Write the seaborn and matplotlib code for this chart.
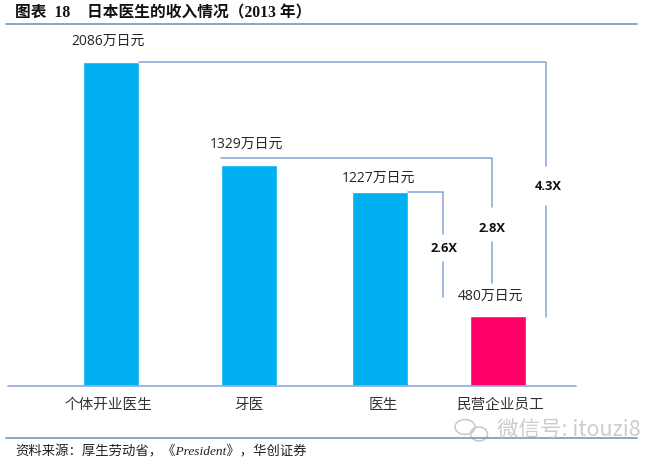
# -*- coding: utf-8 -*-
import matplotlib
matplotlib.use("Agg")
import matplotlib.pyplot as plt
from matplotlib.patches import Ellipse
import seaborn as sns

categories = ["个体开业医生", "牙医", "医生", "民营企业员工"]
# bar heights as drawn in the picture (the source chart is not quite to scale with its labels)
bar_heights = [2086, 1423, 1249, 451]
value_labels = ["2086万日元", "1329万日元", "1227万日元", "480万日元"]
ratio_labels = ["2.6X", "2.8X", "4.3X"]
bar_colors = ["#00B0F0", "#00B0F0", "#00B0F0", "#FF0066"]

sns.set_theme(style="white")
CJK = "Noto Sans CJK SC"
plt.rcParams["font.family"] = ["Open Sans", CJK, "DejaVu Sans"]

W, H = 660, 465
BASE = 386            # pixel row of the baseline
PX_PER_UNIT = 324 / 2086
LINE = "#8FAADC"
RULE = "#7F9FC6"
bar_x = [111, 249, 380, 498]


def yv(py):
    """pixel row -> value on the y axis"""
    return (BASE - py) / PX_PER_UNIT


fig = plt.figure(figsize=(W / 100, H / 100), dpi=100)
ax = fig.add_axes([0, 0, 1, 1])
ax.set_xlim(0, W)
ax.set_ylim(yv(H), yv(0))
ax.axis("off")

sns.barplot(x=bar_x, y=bar_heights, hue=categories, hue_order=categories,
            palette=bar_colors, native_scale=True, width=56 / 118, dodge=False,
            legend=False, saturation=1, ax=ax)
ax.set_xlim(0, W)
ax.set_ylim(yv(H), yv(0))

# baseline and the two page rules
ax.plot([8, 576], [0, 0], color=LINE, lw=1.2, zorder=1)
ax.plot([6, 637], [yv(24.5)] * 2, color=RULE, lw=1.3)
ax.plot([6, 637], [yv(438)] * 2, color=RULE, lw=1.3)

# brackets between the bars
brackets = [
    ([139, 546, 546], [62, 62, 166]), ([546, 546], [206, 317]),
    ([221, 492, 492], [158, 158, 207]), ([492, 492], [242, 283]),
    ([408, 443, 443], [192, 192, 234]), ([443, 443], [262, 297]),
]
for xs, ys in brackets:
    ax.plot(xs, [yv(p) for p in ys], color=LINE, lw=1.2)

# value labels
label_pos = [(108, 41), (246, 144), (378, 178), (491, 296)]
for (px, py), txt in zip(label_pos, value_labels):
    ax.text(px, yv(py), txt, ha="center", va="center", fontsize=10, color="#262626")

# ratio labels
ratio_pos = [(444, 248), (492, 228), (548, 186)]
for (px, py), txt in zip(ratio_pos, ratio_labels):
    ax.text(px, yv(py), txt, ha="center", va="center", fontsize=9.3,
            fontweight="bold", color="#111111")

# category labels
cat_x = [108, 249, 383, 501]
for px, txt in zip(cat_x, categories):
    ax.text(px, yv(405), txt, ha="center", va="center", fontsize=10.5,
            color="#333333", family=[CJK, "DejaVu Sans"])

# title
serif_cjk = ["Liberation Serif", CJK]
ax.text(15, yv(13), "图表  18", ha="left", va="center", fontsize=11.3,
        fontweight="bold", color="#111111", family=serif_cjk)
ax.text(87, yv(13), "日本医生的收入情况（2013 年）", ha="left", va="center", fontsize=11.3,
        fontweight="bold", color="#111111", family=serif_cjk)

# source
ax.text(15, yv(452), "资料来源：厚生劳动省，《President》，华创证券", ha="left", va="center",
        fontsize=9.6, style="italic", color="#222222", family=serif_cjk)

# watermark
ax.text(497, yv(431), "微信号: itouzi8", ha="left", va="center", fontsize=15.5,
        color="#C4C4C4", alpha=0.85, family=[CJK, "DejaVu Sans"])
for cx, cy, w, h in [(465, 427, 20, 15), (479, 434, 17, 14)]:
    ax.add_patch(Ellipse((cx, yv(cy)), w, h * 2086 / 324, fill=False,
                         ec="#C8C8C8", lw=1.1))

fig.savefig("out.png", dpi=100)
